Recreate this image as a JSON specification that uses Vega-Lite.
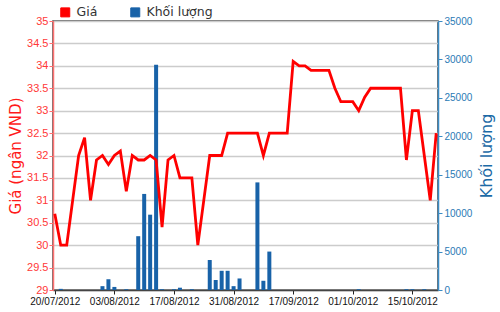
{
  "$schema": "https://vega.github.io/schema/vega-lite/v6.json",
  "autosize": {"type": "none"},
  "width": 385,
  "height": 269,
  "padding": {"left": 53, "top": 21, "right": 62, "bottom": 22},
  "background": "white",
  "config": {
    "font": "Liberation Sans",
    "view": {"stroke": "#444", "strokeWidth": 1.5}
  },
  "data": {
    "values": [
      {"d": "20/07/2012", "p": 30.7, "v": 0},
      {"d": "23/07/2012", "p": 30.0, "v": 150},
      {"d": "24/07/2012", "p": 30.0, "v": 0},
      {"d": "25/07/2012", "p": 31.0, "v": 0},
      {"d": "26/07/2012", "p": 32.0, "v": 0},
      {"d": "27/07/2012", "p": 32.4, "v": 0},
      {"d": "30/07/2012", "p": 31.0, "v": 0},
      {"d": "31/07/2012", "p": 31.9, "v": 0},
      {"d": "01/08/2012", "p": 32.0, "v": 500},
      {"d": "02/08/2012", "p": 31.8, "v": 1400},
      {"d": "03/08/2012", "p": 32.0, "v": 400},
      {"d": "06/08/2012", "p": 32.1, "v": 0},
      {"d": "07/08/2012", "p": 31.2, "v": 100},
      {"d": "08/08/2012", "p": 32.0, "v": 0},
      {"d": "09/08/2012", "p": 31.9, "v": 7000},
      {"d": "10/08/2012", "p": 31.9, "v": 12500},
      {"d": "13/08/2012", "p": 32.0, "v": 9800},
      {"d": "14/08/2012", "p": 31.9, "v": 29300},
      {"d": "15/08/2012", "p": 30.4, "v": 100},
      {"d": "16/08/2012", "p": 31.9, "v": 0},
      {"d": "17/08/2012", "p": 32.0, "v": 100},
      {"d": "20/08/2012", "p": 31.5, "v": 300},
      {"d": "21/08/2012", "p": 31.5, "v": 0},
      {"d": "22/08/2012", "p": 31.5, "v": 100},
      {"d": "23/08/2012", "p": 30.0, "v": 0},
      {"d": "24/08/2012", "p": 31.0, "v": 0},
      {"d": "27/08/2012", "p": 32.0, "v": 3900},
      {"d": "28/08/2012", "p": 32.0, "v": 1300},
      {"d": "29/08/2012", "p": 32.0, "v": 2500},
      {"d": "30/08/2012", "p": 32.5, "v": 2500},
      {"d": "31/08/2012", "p": 32.5, "v": 500},
      {"d": "04/09/2012", "p": 32.5, "v": 1500},
      {"d": "05/09/2012", "p": 32.5, "v": 0},
      {"d": "06/09/2012", "p": 32.5, "v": 0},
      {"d": "07/09/2012", "p": 32.5, "v": 14000},
      {"d": "10/09/2012", "p": 32.0, "v": 1200},
      {"d": "11/09/2012", "p": 32.5, "v": 5000},
      {"d": "12/09/2012", "p": 32.5, "v": 0},
      {"d": "13/09/2012", "p": 32.5, "v": 0},
      {"d": "14/09/2012", "p": 32.5, "v": 0},
      {"d": "17/09/2012", "p": 34.1, "v": 0},
      {"d": "18/09/2012", "p": 34.0, "v": 0},
      {"d": "19/09/2012", "p": 34.0, "v": 0},
      {"d": "20/09/2012", "p": 33.9, "v": 0},
      {"d": "21/09/2012", "p": 33.9, "v": 0},
      {"d": "24/09/2012", "p": 33.9, "v": 0},
      {"d": "25/09/2012", "p": 33.9, "v": 0},
      {"d": "26/09/2012", "p": 33.5, "v": 0},
      {"d": "27/09/2012", "p": 33.2, "v": 0},
      {"d": "28/09/2012", "p": 33.2, "v": 0},
      {"d": "01/10/2012", "p": 33.2, "v": 0},
      {"d": "02/10/2012", "p": 33.0, "v": 100},
      {"d": "03/10/2012", "p": 33.3, "v": 0},
      {"d": "04/10/2012", "p": 33.5, "v": 0},
      {"d": "05/10/2012", "p": 33.5, "v": 0},
      {"d": "08/10/2012", "p": 33.5, "v": 0},
      {"d": "09/10/2012", "p": 33.5, "v": 0},
      {"d": "10/10/2012", "p": 33.5, "v": 0},
      {"d": "11/10/2012", "p": 33.5, "v": 0},
      {"d": "12/10/2012", "p": 31.9, "v": 100},
      {"d": "15/10/2012", "p": 33.0, "v": 100},
      {"d": "16/10/2012", "p": 33.0, "v": 0},
      {"d": "17/10/2012", "p": 32.0, "v": 100},
      {"d": "18/10/2012", "p": 31.0, "v": 0},
      {"d": "19/10/2012", "p": 32.5, "v": 0}
    ]
  },
  "encoding": {
    "x": {
      "field": "d",
      "type": "ordinal",
      "sort": null,
      "scale": {"type": "point", "padding": 0.3},
      "axis": {
        "values": ["20/07/2012", "03/08/2012", "17/08/2012", "31/08/2012", "17/09/2012", "01/10/2012", "15/10/2012"],
        "labelAngle": 0,
        "title": null,
        "labelFontSize": 10,
        "labelColor": "#111",
        "domainColor": "#444",
        "domainWidth": 1.5,
        "tickColor": "#222",
        "tickSize": 4,
        "labelPadding": 2,
        "grid": false
      }
    }
  },
  "layer": [
    {
      "mark": {"type": "bar", "size": 4},
      "encoding": {
        "y": {
          "field": "v",
          "type": "quantitative",
          "scale": {"domain": [0, 35000], "nice": false},
          "axis": {
            "orient": "right",
            "values": [0, 5000, 10000, 15000, 20000, 25000, 30000, 35000],
            "format": "d",
            "title": "Khối lượng",
            "titleAngle": 270,
            "titleBaseline": "top",
            "titleFont": "DejaVu Sans",
            "titleFontSize": 16,
            "titleFontWeight": "normal",
            "titleColor": "#1c6aa6",
            "titlePadding": 7,
            "labelFontSize": 10,
            "labelColor": "#2a7ab5",
            "domainColor": "#3a8cc6",
            "domainWidth": 1.5,
            "tickColor": "#3a8cc6",
            "tickSize": 4,
            "labelPadding": 2,
            "grid": false
          }
        },
        "color": {
          "datum": "Khối lượng",
          "type": "nominal",
          "scale": {"domain": ["Giá", "Khối lượng"], "range": ["#ff0000", "#1862a8"]},
          "legend": {
            "orient": "none",
            "legendX": 6,
            "legendY": -15,
            "direction": "horizontal",
            "title": null,
            "symbolType": "square",
            "symbolSize": 81,
            "symbolStrokeWidth": 1,
            "labelFont": "DejaVu Sans",
            "labelFontSize": 12.5,
            "labelColor": "#333",
            "labelOffset": 5,
            "columnPadding": 30,
            "encode": {
              "symbols": {
                "update": {
                  "fill": {"scale": "color", "field": "value"},
                  "stroke": {"value": "#333"},
                  "strokeWidth": {"value": 1},
                  "fillOpacity": {"value": 1},
                  "shape": {"value": "square"}
                }
              }
            }
          }
        }
      }
    },
    {
      "mark": {"type": "line", "strokeWidth": 2.8, "strokeJoin": "miter"},
      "encoding": {
        "y": {
          "field": "p",
          "type": "quantitative",
          "scale": {"domain": [29, 35], "nice": false, "zero": false},
          "axis": {
            "orient": "left",
            "values": [29, 29.5, 30, 30.5, 31, 31.5, 32, 32.5, 33, 33.5, 34, 34.5, 35],
            "format": "~g",
            "title": "Giá (ngân VND)",
            "titleFont": "DejaVu Sans",
            "titleFontSize": 15,
            "titleFontWeight": "normal",
            "titleColor": "#ff1a1a",
            "titlePadding": 3,
            "labelFontSize": 11,
            "labelColor": "#ff3838",
            "domainColor": "#ff7070",
            "domainWidth": 1.5,
            "tickColor": "#ff7070",
            "tickSize": 4,
            "labelPadding": 1,
            "grid": true,
            "gridColor": "#cccccc",
            "gridWidth": 1.5
          }
        },
        "color": {"datum": "Giá", "type": "nominal"}
      }
    }
  ],
  "resolve": {"scale": {"y": "independent"}}
}
